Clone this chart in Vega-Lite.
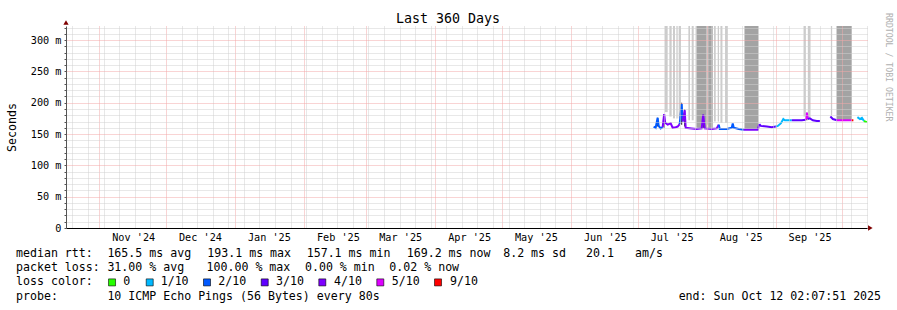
{
  "$schema": "https://vega.github.io/schema/vega-lite/v6.json",
  "width": 801,
  "height": 202,
  "autosize": "none",
  "padding": {"left": 66, "top": 26, "right": 30, "bottom": 82},
  "background": "white",
  "config": {"view": {"stroke": null}},
  "resolve": {"scale": {"x": "independent", "y": "independent", "color": "independent", "fill": "independent", "shape": "independent"}, "axis": {"x": "independent", "y": "independent"}},
  "layer": [
    {
      "encoding": {
        "x": {"field": "t", "type": "temporal",
          "scale": {"type": "utc", "domain": [{"year": 2024, "month": 10, "date": 17, "hours": 2, "minutes": 7, "seconds": 51, "utc": true}, {"year": 2025, "month": 10, "date": 12, "hours": 2, "minutes": 7, "seconds": 51, "utc": true}]},
          "axis": {
            "title": null,
            "values": [
              {"year": 2024, "month": 10, "date": 20, "utc": true}, {"year": 2024, "month": 10, "date": 27, "utc": true},
              {"year": 2024, "month": 11, "date": 1, "utc": true},
              {"year": 2024, "month": 11, "date": 3, "utc": true}, {"year": 2024, "month": 11, "date": 10, "utc": true},
              {"year": 2024, "month": 11, "date": 17, "utc": true}, {"year": 2024, "month": 11, "date": 24, "utc": true},
              {"year": 2024, "month": 12, "date": 1, "utc": true}, {"year": 2024, "month": 12, "date": 8, "utc": true},
              {"year": 2024, "month": 12, "date": 15, "utc": true}, {"year": 2024, "month": 12, "date": 22, "utc": true},
              {"year": 2024, "month": 12, "date": 29, "utc": true},
              {"year": 2025, "month": 1, "date": 1, "utc": true},
              {"year": 2025, "month": 1, "date": 5, "utc": true}, {"year": 2025, "month": 1, "date": 12, "utc": true},
              {"year": 2025, "month": 1, "date": 19, "utc": true}, {"year": 2025, "month": 1, "date": 26, "utc": true},
              {"year": 2025, "month": 2, "date": 1, "utc": true},
              {"year": 2025, "month": 2, "date": 2, "utc": true}, {"year": 2025, "month": 2, "date": 9, "utc": true},
              {"year": 2025, "month": 2, "date": 16, "utc": true}, {"year": 2025, "month": 2, "date": 23, "utc": true},
              {"year": 2025, "month": 3, "date": 1, "utc": true},
              {"year": 2025, "month": 3, "date": 2, "utc": true}, {"year": 2025, "month": 3, "date": 9, "utc": true},
              {"year": 2025, "month": 3, "date": 16, "utc": true}, {"year": 2025, "month": 3, "date": 23, "utc": true},
              {"year": 2025, "month": 3, "date": 30, "utc": true},
              {"year": 2025, "month": 4, "date": 1, "utc": true},
              {"year": 2025, "month": 4, "date": 6, "utc": true}, {"year": 2025, "month": 4, "date": 13, "utc": true},
              {"year": 2025, "month": 4, "date": 20, "utc": true}, {"year": 2025, "month": 4, "date": 27, "utc": true},
              {"year": 2025, "month": 5, "date": 1, "utc": true},
              {"year": 2025, "month": 5, "date": 4, "utc": true}, {"year": 2025, "month": 5, "date": 11, "utc": true},
              {"year": 2025, "month": 5, "date": 18, "utc": true}, {"year": 2025, "month": 5, "date": 25, "utc": true},
              {"year": 2025, "month": 6, "date": 1, "utc": true}, {"year": 2025, "month": 6, "date": 8, "utc": true},
              {"year": 2025, "month": 6, "date": 15, "utc": true}, {"year": 2025, "month": 6, "date": 22, "utc": true},
              {"year": 2025, "month": 6, "date": 29, "utc": true},
              {"year": 2025, "month": 7, "date": 1, "utc": true},
              {"year": 2025, "month": 7, "date": 6, "utc": true}, {"year": 2025, "month": 7, "date": 13, "utc": true},
              {"year": 2025, "month": 7, "date": 20, "utc": true}, {"year": 2025, "month": 7, "date": 27, "utc": true},
              {"year": 2025, "month": 8, "date": 1, "utc": true},
              {"year": 2025, "month": 8, "date": 3, "utc": true}, {"year": 2025, "month": 8, "date": 10, "utc": true},
              {"year": 2025, "month": 8, "date": 17, "utc": true}, {"year": 2025, "month": 8, "date": 24, "utc": true},
              {"year": 2025, "month": 8, "date": 31, "utc": true},
              {"year": 2025, "month": 9, "date": 1, "utc": true},
              {"year": 2025, "month": 9, "date": 7, "utc": true}, {"year": 2025, "month": 9, "date": 14, "utc": true},
              {"year": 2025, "month": 9, "date": 21, "utc": true}, {"year": 2025, "month": 9, "date": 28, "utc": true},
              {"year": 2025, "month": 10, "date": 1, "utc": true},
              {"year": 2025, "month": 10, "date": 5, "utc": true}, {"year": 2025, "month": 10, "date": 12, "utc": true}
            ],
            "grid": true,
            "gridColor": {"condition": {"test": "utcdate(datum.value) === 1", "value": "#f2a8a8"}, "value": "#d0d0d0"},
            "gridDash": [1, 1],
            "gridWidth": 1,
            "labelExpr": "utcdate(datum.value) === 1 && utcmonth(datum.value) !== 9 ? utcFormat(datum.value, \"%b '%y\") : ''",
            "labelOffset": 34,
            "labelOverlap": false,
            "labelFlush": false,
            "labelBound": false,
            "labelFont": "DejaVu Sans Mono",
            "labelFontSize": 10.2,
            "labelColor": "#000",
            "labelPadding": 4,
            "ticks": false,
            "domainColor": "#000",
            "domainWidth": 1,
            "zindex": 1
          }
        },
        "y": {"field": "v", "type": "quantitative",
          "scale": {"domain": [0, 322.5], "nice": false, "zero": true},
          "axis": {
            "title": "Seconds",
            "titleFont": "DejaVu Sans Mono",
            "titleFontSize": 11.6,
            "titleFontWeight": "normal",
            "titleColor": "#000",
            "titlePadding": 13,
            "values": [0, 10, 20, 30, 40, 50, 60, 70, 80, 90, 100, 110, 120, 130, 140, 150, 160, 170, 180, 190, 200, 210, 220, 230, 240, 250, 260, 270, 280, 290, 300, 310, 320],
            "grid": true,
            "gridColor": {"condition": {"test": "datum.value % 50 === 0", "value": "#f2a8a8"}, "value": "#d0d0d0"},
            "gridDash": [1, 1],
            "gridWidth": 1,
            "labelExpr": "datum.value % 50 === 0 ? (datum.value === 0 ? '0' : datum.value + ' m') : ''",
            "labelOverlap": false,
            "labelFont": "DejaVu Sans Mono",
            "labelFontSize": 10.2,
            "labelColor": "#000",
            "labelPadding": 3,
            "tickSize": 2,
            "tickColor": "#555",
            "domainColor": "#555",
            "zindex": 1
          }
        }
      },
      "layer": [
        {
          "data": {"values": [
            {"t": "2025-07-13T06:50:00Z", "t2": "2025-07-14T12:00:00Z", "v": 185, "hi": 322.5, "shade": "light"},
            {"t": "2025-07-15T06:22:00Z", "t2": "2025-07-16T07:12:00Z", "v": 178, "hi": 322.5, "shade": "light"},
            {"t": "2025-07-16T21:14:00Z", "t2": "2025-07-17T18:50:00Z", "v": 175, "hi": 322.5, "shade": "light"},
            {"t": "2025-07-18T09:58:00Z", "t2": "2025-07-19T00:00:00Z", "v": 175, "hi": 322.5, "shade": "light"},
            {"t": "2025-07-19T10:48:00Z", "t2": "2025-07-20T11:38:00Z", "v": 175, "hi": 322.5, "shade": "light"},
            {"t": "2025-07-23T19:34:00Z", "t2": "2025-07-24T12:50:00Z", "v": 172, "hi": 322.5, "shade": "light"},
            {"t": "2025-07-25T07:12:00Z", "t2": "2025-07-26T04:48:00Z", "v": 172, "hi": 322.5, "shade": "light"},
            {"t": "2025-07-27T09:58:00Z", "t2": "2025-08-01T01:12:00Z", "v": 160, "hi": 322.5, "shade": "dark"},
            {"t": "2025-08-01T01:12:00Z", "t2": "2025-08-01T17:24:00Z", "v": 165, "hi": 322.5, "shade": "light"},
            {"t": "2025-08-01T17:24:00Z", "t2": "2025-08-03T18:00:00Z", "v": 160, "hi": 322.5, "shade": "dark"},
            {"t": "2025-08-04T08:02:00Z", "t2": "2025-08-05T02:24:00Z", "v": 170, "hi": 322.5, "shade": "light"},
            {"t": "2025-08-06T00:00:00Z", "t2": "2025-08-06T14:02:00Z", "v": 170, "hi": 322.5, "shade": "light"},
            {"t": "2025-08-07T05:10:00Z", "t2": "2025-08-08T02:46:00Z", "v": 168, "hi": 322.5, "shade": "light"},
            {"t": "2025-08-09T06:50:00Z", "t2": "2025-08-10T12:00:00Z", "v": 168, "hi": 322.5, "shade": "light"},
            {"t": "2025-08-18T00:22:00Z", "t2": "2025-08-24T07:34:00Z", "v": 158, "hi": 322.5, "shade": "dark"},
            {"t": "2025-09-13T13:34:00Z", "t2": "2025-09-14T14:24:00Z", "v": 178, "hi": 322.5, "shade": "light"},
            {"t": "2025-09-15T12:00:00Z", "t2": "2025-09-16T17:10:00Z", "v": 176, "hi": 322.5, "shade": "light"},
            {"t": "2025-09-25T20:24:00Z", "t2": "2025-09-26T10:26:00Z", "v": 180, "hi": 322.5, "shade": "light"},
            {"t": "2025-09-28T09:58:00Z", "t2": "2025-10-05T07:12:00Z", "v": 172, "hi": 322.5, "shade": "dark"},
            {"t": "2025-07-09T18:36:00Z", "t2": "2025-07-10T05:24:00Z", "v": 162, "hi": 176, "shade": "black"},
            {"t": "2025-07-12T16:48:00Z", "t2": "2025-07-13T03:36:00Z", "v": 160, "hi": 182, "shade": "black"},
            {"t": "2025-07-20T13:48:00Z", "t2": "2025-07-21T00:36:00Z", "v": 165, "hi": 200, "shade": "black"},
            {"t": "2025-07-21T22:12:00Z", "t2": "2025-07-22T09:00:00Z", "v": 162, "hi": 189, "shade": "black"},
            {"t": "2025-07-30T06:00:00Z", "t2": "2025-07-30T16:48:00Z", "v": 160, "hi": 181, "shade": "black"},
            {"t": "2025-09-14T19:48:00Z", "t2": "2025-09-15T06:36:00Z", "v": 172, "hi": 184, "shade": "black"}
          ]},
          "mark": {"type": "rect", "clip": true},
          "encoding": {
            "x2": {"field": "t2"},
            "y2": {"field": "hi"},
            "fill": {"field": "shade", "type": "nominal", "scale": {"domain": ["light", "dark", "black"], "range": ["#cccccc", "#a3a3a3", "#202020"]}, "legend": null}
          }
        },
        {
          "data": {"values": [
            {"s": 1, "t": "2025-07-08T04:48:00Z", "v": 162, "loss": "2/10"},
            {"s": 1, "t": "2025-07-09T02:24:00Z", "v": 160, "loss": "2/10"},
            {"s": 1, "t": "2025-07-10T00:00:00Z", "v": 176, "loss": "2/10"},
            {"s": 1, "t": "2025-07-10T10:48:00Z", "v": 163, "loss": "2/10"},
            {"s": 1, "t": "2025-07-11T08:24:00Z", "v": 159, "loss": "2/10"},
            {"s": 1, "t": "2025-07-12T06:00:00Z", "v": 161, "loss": "2/10"},
            {"s": 2, "t": "2025-07-12T06:00:00Z", "v": 161, "loss": "4/10"},
            {"s": 2, "t": "2025-07-12T22:12:00Z", "v": 182, "loss": "4/10"},
            {"s": 2, "t": "2025-07-13T09:00:00Z", "v": 168, "loss": "4/10"},
            {"s": 2, "t": "2025-07-14T12:00:00Z", "v": 165, "loss": "4/10"},
            {"s": 2, "t": "2025-07-15T20:24:00Z", "v": 167, "loss": "4/10"},
            {"s": 2, "t": "2025-07-16T18:00:00Z", "v": 160, "loss": "4/10"},
            {"s": 2, "t": "2025-07-18T02:24:00Z", "v": 161, "loss": "4/10"},
            {"s": 2, "t": "2025-07-19T00:00:00Z", "v": 162, "loss": "4/10"},
            {"s": 2, "t": "2025-07-19T21:36:00Z", "v": 166, "loss": "4/10"},
            {"s": 3, "t": "2025-07-19T21:36:00Z", "v": 166, "loss": "2/10"},
            {"s": 3, "t": "2025-07-20T19:12:00Z", "v": 198, "loss": "2/10"},
            {"s": 3, "t": "2025-07-21T06:00:00Z", "v": 170, "loss": "2/10"},
            {"s": 4, "t": "2025-07-21T06:00:00Z", "v": 170, "loss": "4/10"},
            {"s": 4, "t": "2025-07-22T03:36:00Z", "v": 188, "loss": "4/10"},
            {"s": 4, "t": "2025-07-22T14:24:00Z", "v": 160, "loss": "4/10"},
            {"s": 4, "t": "2025-07-25T07:12:00Z", "v": 159, "loss": "4/10"},
            {"s": 4, "t": "2025-07-27T13:12:00Z", "v": 158, "loss": "4/10"},
            {"s": 4, "t": "2025-07-29T19:12:00Z", "v": 159, "loss": "4/10"},
            {"s": 4, "t": "2025-07-30T11:24:00Z", "v": 181, "loss": "4/10"},
            {"s": 4, "t": "2025-07-31T03:36:00Z", "v": 159, "loss": "4/10"},
            {"s": 4, "t": "2025-08-03T07:12:00Z", "v": 158, "loss": "4/10"},
            {"s": 4, "t": "2025-08-05T13:12:00Z", "v": 159, "loss": "4/10"},
            {"s": 4, "t": "2025-08-06T10:48:00Z", "v": 165, "loss": "4/10"},
            {"s": 5, "t": "2025-08-06T10:48:00Z", "v": 165, "loss": "2/10"},
            {"s": 5, "t": "2025-08-06T21:36:00Z", "v": 158, "loss": "2/10"},
            {"s": 5, "t": "2025-08-10T01:12:00Z", "v": 158, "loss": "2/10"},
            {"s": 5, "t": "2025-08-12T07:12:00Z", "v": 160, "loss": "2/10"},
            {"s": 5, "t": "2025-08-12T18:00:00Z", "v": 167, "loss": "2/10"},
            {"s": 5, "t": "2025-08-13T04:48:00Z", "v": 160, "loss": "2/10"},
            {"s": 5, "t": "2025-08-15T10:48:00Z", "v": 158, "loss": "2/10"},
            {"s": 5, "t": "2025-08-17T16:48:00Z", "v": 157, "loss": "2/10"},
            {"s": 6, "t": "2025-08-17T16:48:00Z", "v": 157, "loss": "4/10"},
            {"s": 6, "t": "2025-08-21T07:12:00Z", "v": 157, "loss": "4/10"},
            {"s": 6, "t": "2025-08-24T00:00:00Z", "v": 157, "loss": "4/10"},
            {"s": 6, "t": "2025-08-24T16:12:00Z", "v": 166, "loss": "4/10"},
            {"s": 7, "t": "2025-08-24T16:12:00Z", "v": 166, "loss": "3/10"},
            {"s": 7, "t": "2025-08-25T08:24:00Z", "v": 163, "loss": "3/10"},
            {"s": 7, "t": "2025-08-28T01:12:00Z", "v": 162, "loss": "3/10"},
            {"s": 7, "t": "2025-08-30T07:12:00Z", "v": 161, "loss": "3/10"},
            {"s": 7, "t": "2025-09-01T02:24:00Z", "v": 162, "loss": "3/10"},
            {"s": 8, "t": "2025-09-01T02:24:00Z", "v": 162, "loss": "1/10"},
            {"s": 8, "t": "2025-09-02T00:00:00Z", "v": 163, "loss": "1/10"},
            {"s": 8, "t": "2025-09-03T08:24:00Z", "v": 167, "loss": "1/10"},
            {"s": 8, "t": "2025-09-04T11:24:00Z", "v": 174, "loss": "1/10"},
            {"s": 8, "t": "2025-09-05T03:36:00Z", "v": 172, "loss": "1/10"},
            {"s": 8, "t": "2025-09-08T07:12:00Z", "v": 172, "loss": "1/10"},
            {"s": 9, "t": "2025-09-08T07:12:00Z", "v": 172, "loss": "3/10"},
            {"s": 9, "t": "2025-09-09T04:48:00Z", "v": 172, "loss": "3/10"},
            {"s": 9, "t": "2025-09-12T19:12:00Z", "v": 172, "loss": "3/10"},
            {"s": 9, "t": "2025-09-14T14:24:00Z", "v": 173, "loss": "3/10"},
            {"s": 10, "t": "2025-09-14T14:24:00Z", "v": 173, "loss": "5/10"},
            {"s": 10, "t": "2025-09-15T01:12:00Z", "v": 184, "loss": "5/10"},
            {"s": 10, "t": "2025-09-15T12:00:00Z", "v": 174, "loss": "5/10"},
            {"s": 11, "t": "2025-09-15T12:00:00Z", "v": 174, "loss": "3/10"},
            {"s": 11, "t": "2025-09-16T09:36:00Z", "v": 175, "loss": "3/10"},
            {"s": 11, "t": "2025-09-17T18:00:00Z", "v": 172, "loss": "3/10"},
            {"s": 11, "t": "2025-09-19T13:12:00Z", "v": 171, "loss": "3/10"},
            {"s": 11, "t": "2025-09-20T21:36:00Z", "v": 171, "loss": "3/10"},
            {"s": 12, "t": "2025-09-25T15:00:00Z", "v": 178, "loss": "3/10"},
            {"s": 12, "t": "2025-09-26T18:00:00Z", "v": 174, "loss": "3/10"},
            {"s": 12, "t": "2025-09-28T13:12:00Z", "v": 172, "loss": "3/10"},
            {"s": 13, "t": "2025-09-28T13:12:00Z", "v": 172, "loss": "5/10"},
            {"s": 13, "t": "2025-10-03T01:12:00Z", "v": 172, "loss": "5/10"},
            {"s": 13, "t": "2025-10-05T01:48:00Z", "v": 172, "loss": "5/10"},
            {"s": 14, "t": "2025-10-05T01:48:00Z", "v": 172, "loss": "9/10"},
            {"s": 14, "t": "2025-10-05T23:24:00Z", "v": 172, "loss": "9/10"},
            {"s": 15, "t": "2025-10-07T18:36:00Z", "v": 177, "loss": "1/10"},
            {"s": 15, "t": "2025-10-08T21:36:00Z", "v": 174, "loss": "1/10"},
            {"s": 15, "t": "2025-10-09T19:12:00Z", "v": 176, "loss": "1/10"},
            {"s": 15, "t": "2025-10-10T16:48:00Z", "v": 171, "loss": "1/10"},
            {"s": 16, "t": "2025-10-10T16:48:00Z", "v": 171, "loss": "0"},
            {"s": 16, "t": "2025-10-11T03:36:00Z", "v": 170, "loss": "0"},
            {"s": 16, "t": "2025-10-12T01:12:00Z", "v": 169, "loss": "0"}
          ]},
          "mark": {"type": "line", "strokeWidth": 2},
          "encoding": {
            "detail": {"field": "s", "type": "nominal"},
            "color": {"field": "loss", "type": "nominal", "scale": {"domain": ["0", "1/10", "2/10", "3/10", "4/10", "5/10", "9/10"], "range": ["#26ff00", "#00b8ff", "#0059ff", "#5e00ff", "#7e00ff", "#dd00ff", "#ff0000"]}, "legend": null}
          }
        },
        {
          "data": {"values": [
            {"t": "2024-10-17T02:07:51Z", "v": 328, "dir": "up"},
            {"t": "2025-10-13T14:00:00Z", "v": 0, "dir": "right"}
          ]},
          "mark": {"type": "point", "filled": true, "size": 28, "color": "#7f0000", "opacity": 1},
          "encoding": {
            "shape": {"field": "dir", "type": "nominal", "scale": {"domain": ["up", "right"], "range": ["triangle-up", "triangle-right"]}, "legend": null}
          }
        }
      ]
    },
    {
      "encoding": {
        "x": {"field": "col", "type": "quantitative", "scale": {"domain": [7.112, 121.05], "nice": false, "zero": false}, "axis": null},
        "y": {"field": "row", "type": "quantitative", "scale": {"domain": [-16.056, -1.831], "reverse": true, "nice": false, "zero": false}, "axis": null}
      },
      "layer": [
        {
          "data": {"values": [
            {"col": 0, "row": 0, "text": "median rtt:"},
            {"col": 13, "row": 0, "text": "165.5 ms avg"},
            {"col": 27.21, "row": 0, "text": "193.1 ms max"},
            {"col": 41.35, "row": 0, "text": "157.1 ms min"},
            {"col": 55.58, "row": 0, "text": "169.2 ms now"},
            {"col": 69.3, "row": 0, "text": "8.2 ms sd"},
            {"col": 81.08, "row": 0, "text": "20.1"},
            {"col": 88.05, "row": 0, "text": "am/s"},
            {"col": 0, "row": 1, "text": "packet loss:"},
            {"col": 13, "row": 1, "text": "31.00 % avg"},
            {"col": 27.1, "row": 1, "text": "100.00 % max"},
            {"col": 41.1, "row": 1, "text": "0.00 % min"},
            {"col": 53.1, "row": 1, "text": "0.02 % now"},
            {"col": 0, "row": 2, "text": "loss color:"},
            {"col": 15.26, "row": 2, "text": "0"},
            {"col": 20.58, "row": 2, "text": "1/10"},
            {"col": 28.78, "row": 2, "text": "2/10"},
            {"col": 36.98, "row": 2, "text": "3/10"},
            {"col": 45.23, "row": 2, "text": "4/10"},
            {"col": 53.44, "row": 2, "text": "5/10"},
            {"col": 61.74, "row": 2, "text": "9/10"},
            {"col": 0, "row": 3, "text": "probe:"},
            {"col": 13, "row": 3, "text": "10 ICMP Echo Pings (56 Bytes) every 80s"}
          ]},
          "mark": {"type": "text", "align": "left", "baseline": "middle", "font": "DejaVu Sans Mono", "fontSize": 11.6, "color": "#000"},
          "encoding": {"text": {"field": "text"}}
        },
        {
          "data": {"values": [{"col": 123.05, "row": 3, "text": "end: Sun Oct 12 02:07:51 2025"}]},
          "mark": {"type": "text", "align": "right", "baseline": "middle", "font": "DejaVu Sans Mono", "fontSize": 11.6, "color": "#000"},
          "encoding": {"text": {"field": "text"}}
        },
        {
          "data": {"values": [{"col": 61.45, "row": -16.55, "text": "Last 360 Days"}]},
          "mark": {"type": "text", "align": "center", "baseline": "middle", "font": "DejaVu Sans Mono", "fontSize": 13.3, "color": "#000"},
          "encoding": {"text": {"field": "text"}}
        },
        {
          "data": {"values": [{"col": 124.04, "row": -16.97, "text": "RRDTOOL / TOBI OETIKER"}]},
          "mark": {"type": "text", "align": "left", "baseline": "middle", "angle": 90, "font": "DejaVu Sans Mono", "fontSize": 8.2, "color": "#b0b0b0"},
          "encoding": {"text": {"field": "text"}}
        },
        {
          "data": {"values": [
            {"col": 13.66, "row": 2, "loss": "0"},
            {"col": 19.02, "row": 2, "loss": "1/10"},
            {"col": 27.17, "row": 2, "loss": "2/10"},
            {"col": 35.38, "row": 2, "loss": "3/10"},
            {"col": 43.57, "row": 2, "loss": "4/10"},
            {"col": 51.82, "row": 2, "loss": "5/10"},
            {"col": 60.03, "row": 2, "loss": "9/10"}
          ]},
          "mark": {"type": "square", "size": 49, "stroke": "#000", "strokeWidth": 0.6, "opacity": 1},
          "encoding": {
            "fill": {"field": "loss", "type": "nominal", "scale": {"domain": ["0", "1/10", "2/10", "3/10", "4/10", "5/10", "9/10"], "range": ["#26ff00", "#00b8ff", "#0059ff", "#5e00ff", "#7e00ff", "#dd00ff", "#ff0000"]}, "legend": null}
          }
        }
      ]
    }
  ]
}
